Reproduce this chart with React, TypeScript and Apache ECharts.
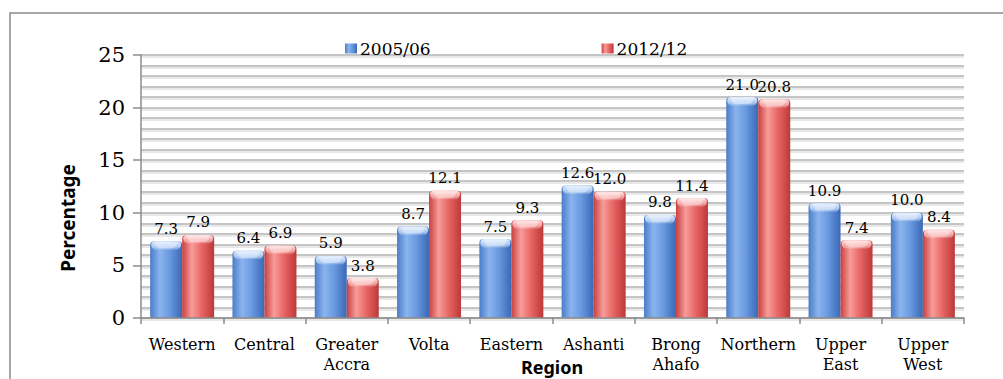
import React, { useEffect, useRef } from "react";
import * as echarts from "echarts";

const regions = [
  "Western",
  "Central",
  "Greater\nAccra",
  "Volta",
  "Eastern",
  "Ashanti",
  "Brong\nAhafo",
  "Northern",
  "Upper\nEast",
  "Upper\nWest",
];
const seriesNames = ["2005/06", "2012/12"];
const values2005 = [7.3, 6.4, 5.9, 8.7, 7.5, 12.6, 9.8, 21.0, 10.9, 10.0];
const values2012 = [7.9, 6.9, 3.8, 12.1, 9.3, 12.0, 11.4, 20.8, 7.4, 8.4];
const yTicks = [0, 5, 10, 15, 20, 25];

const SERIF = "'DejaVu Serif', serif";
const SANS = "'Noto Sans', sans-serif";
const BAR_W = 32;

const hGrad = (edgeL: string, light: string, mid: string, edgeR: string) =>
  new echarts.graphic.LinearGradient(0, 0, 1, 0, [
    { offset: 0, color: edgeL },
    { offset: 0.3, color: light },
    { offset: 0.6, color: mid },
    { offset: 1, color: edgeR },
  ]);

const blueFill = () => hGrad("#4a7cc8", "#8ab4ee", "#6a9ae0", "#3a69b6");
const redFill = () => hGrad("#c84040", "#f79c9a", "#e86866", "#bd3838");

// Glossy bevel drawn on top of each bar, placed with the axes' own scales
const capRenderer = (side: number, light: string, tint: string) => (params: any, api: any) => {
  const top = api.coord([api.value(0), api.value(1)]);
  const base = api.coord([api.value(0), 0]);
  const x = top[0] + (side < 0 ? -BAR_W : 0);
  const h = Math.min(9, base[1] - top[1]);
  return {
    type: "group",
    children: [
      {
        type: "rect",
        shape: { x: x + 1, y: top[1], width: BAR_W - 2, height: h, r: [4, 4, 6, 6] },
        style: {
          fill: new echarts.graphic.LinearGradient(0, 0, 0, 1, [
            { offset: 0, color: light },
            { offset: 0.6, color: tint },
            { offset: 1, color: "rgba(255,255,255,0)" },
          ]),
        },
      },
      {
        type: "rect",
        shape: { x: x + 5, y: top[1] + 1, width: BAR_W - 10, height: Math.max(0, h - 3), r: [2, 2, 8, 8] },
        style: { fill: "rgba(255,255,255,0.35)" },
      },
    ],
  };
};

export default function App() {
  const ref = useRef<HTMLDivElement>(null);

  useEffect(() => {
    document.body.style.margin = "0";
    if (!ref.current) return;
    const chart = echarts.init(ref.current, undefined, { renderer: "svg" });

    const labelStyle = {
      show: true,
      position: "top" as const,
      distance: 5,
      fontFamily: SERIF,
      fontSize: 15,
      color: "#000",
      formatter: (p: any) => Number(p.value).toFixed(1),
    };

    const gridLine = (color: string) => ({ show: true, lineStyle: { color, width: 1.5 } });

    chart.setOption({
      animation: false,
      backgroundColor: "#fff",
      grid: [
        { left: 141, right: 39, top: 55, bottom: 61, outerBoundsMode: "none", containLabel: false },
        // second grid, 2px lower, only for the soft shadow under each gridline
        { left: 141, right: 39, top: 57, bottom: 59, outerBoundsMode: "none", containLabel: false },
      ],
      legend: {
        left: 340,
        top: 35,
        itemWidth: 12,
        itemHeight: 10,
        itemGap: 171,
        icon: "rect",
        textStyle: { fontFamily: SERIF, fontSize: 17, color: "#000", padding: [0, 0, 0, -2] },
        data: [
          { name: seriesNames[0], itemStyle: { color: blueFill() } },
          { name: seriesNames[1], itemStyle: { color: redFill() } },
        ],
      },
      xAxis: [
        {
          type: "category",
          gridIndex: 0,
          data: regions,
          z: 5,
          axisLine: { show: true, lineStyle: { color: "#8c8c8c", width: 1.5 } },
          axisTick: { show: true, length: 6, lineStyle: { color: "#8c8c8c", width: 1.5 } },
          axisLabel: {
            fontFamily: SERIF,
            fontSize: 16,
            color: "#000",
            margin: 16,
            lineHeight: 20,
            interval: 0,
          },
        },
        {
          type: "category",
          gridIndex: 1,
          data: regions,
          axisLine: { show: false },
          axisTick: { show: false },
          axisLabel: { show: false },
        },
      ],
      yAxis: [
        {
          type: "value",
          gridIndex: 0,
          min: yTicks[0],
          max: yTicks[yTicks.length - 1],
          interval: 5,
          z: 1,
          axisLine: { show: true, lineStyle: { color: "#8c8c8c", width: 1.5 } },
          axisTick: { show: true, length: 8, lineStyle: { color: "#8c8c8c", width: 1.5 } },
          axisLabel: {
            fontFamily: SERIF,
            fontSize: 21,
            color: "#000",
            margin: 16,
          },
          splitLine: gridLine("#b2b2b2"),
          minorTick: { show: false, splitNumber: 5 },
          minorSplitLine: gridLine("#b2b2b2"),
        },
        {
          type: "value",
          gridIndex: 1,
          min: yTicks[0],
          max: yTicks[yTicks.length - 1],
          interval: 5,
          z: 0,
          axisLine: { show: false },
          axisTick: { show: false },
          axisLabel: { show: false },
          splitLine: gridLine("#e0e0e0"),
          minorTick: { show: false, splitNumber: 5 },
          minorSplitLine: gridLine("#e0e0e0"),
        },
      ],
      graphic: [
        {
          type: "rect",
          shape: { x: 10, y: 13, width: 1200, height: 600 },
          style: { fill: "none", stroke: "#8a8a8a", lineWidth: 1.5 },
          silent: true,
          z: -1,
        },
        {
          type: "text",
          x: 68,
          y: 218,
          rotation: Math.PI / 2,
          style: {
            text: "Percentage",
            fontFamily: SANS,
            fontSize: 19,
            fontWeight: "bold",
            fill: "#000",
            align: "center",
            verticalAlign: "middle",
          },
        },
        {
          type: "text",
          x: 552,
          y: 367,
          style: {
            text: "Region",
            fontFamily: SANS,
            fontSize: 18,
            fontWeight: "bold",
            fill: "#000",
            align: "center",
            verticalAlign: "middle",
          },
        },
      ],
      series: [
        {
          name: seriesNames[0],
          type: "bar",
          data: values2005,
          barWidth: BAR_W,
          barGap: "0%",
          itemStyle: { color: blueFill(), borderRadius: [4, 4, 0, 0] },
          label: labelStyle,
        },
        {
          name: seriesNames[1],
          type: "bar",
          data: values2012,
          barWidth: BAR_W,
          barGap: "0%",
          itemStyle: { color: redFill(), borderRadius: [4, 4, 0, 0] },
          label: labelStyle,
        },
        {
          name: "cap-2005",
          type: "custom",
          z: 3,
          silent: true,
          data: values2005.map((v, i) => [i, v]),
          renderItem: capRenderer(-1, "#e4efff", "rgba(190,214,250,0.85)"),
        },
        {
          name: "cap-2012",
          type: "custom",
          z: 3,
          silent: true,
          data: values2012.map((v, i) => [i, v]),
          renderItem: capRenderer(1, "#ffe6e6", "rgba(250,178,176,0.85)"),
        },
      ],
    });

    return () => chart.dispose();
  }, []);

  return <div ref={ref} style={{ width: 1003, height: 379 }} />;
}
